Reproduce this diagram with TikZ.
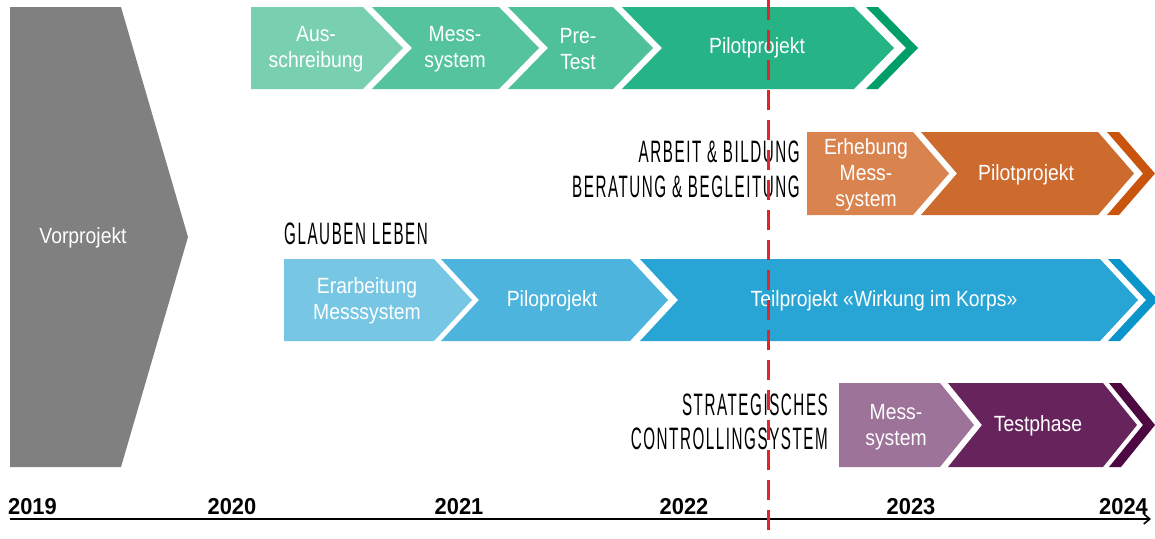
\documentclass[tikz,border=0pt]{standalone}
\usepackage{fontspec}
\setmainfont{Liberation Sans}
\newfontfamily\condf[FakeStretch=0.88]{Liberation Sans}
\newfontfamily\handf[FakeStretch=0.49,LetterSpace=5]{Liberation Sans}
\newfontfamily\yearf[FakeStretch=0.95]{Liberation Sans}
\usetikzlibrary{arrows.meta}
\definecolor{gA}{HTML}{79D0B1}
\definecolor{gB}{HTML}{54C39E}
\definecolor{gC}{HTML}{4EC19A}
\definecolor{gD}{HTML}{26B386}
\definecolor{gS}{HTML}{009E6A}
\definecolor{oA}{HTML}{D9844F}
\definecolor{oB}{HTML}{CD6A2E}
\definecolor{oS}{HTML}{C8540E}
\definecolor{bA}{HTML}{76C6E4}
\definecolor{bB}{HTML}{4DB4DD}
\definecolor{bC}{HTML}{28A5D5}
\definecolor{bS}{HTML}{0C95CA}
\definecolor{pA}{HTML}{9E7399}
\definecolor{pB}{HTML}{67235C}
\definecolor{pS}{HTML}{4E0943}
\definecolor{vgray}{HTML}{808080}
\definecolor{redline}{HTML}{E3242B}
% #1 colour, #2 x left, #3 x right (top), #4 y top, #5 y bottom, #6 notch depth, #7 tip depth
\newcommand\chevshape[7]{%
  \fill[#1] (#2,#4) -- (#3,#4) -- ({#3+#7},{(#4+#5)/2}) -- (#3,#5) -- (#2,#5) -- ({#2+#6},{(#4+#5)/2}) -- cycle;}
\begin{document}
\begin{tikzpicture}[x=1pt,y=-1pt,
  chevtext/.style={text=white,font=\condf\fontsize{22}{26}\selectfont,align=center,inner sep=0pt},
  headtext/.style={text=black,font=\handf\fontsize{31}{34}\selectfont,inner sep=0pt},
  yeartext/.style={text=black,font=\yearf\bfseries\fontsize{23}{26}\selectfont,inner sep=0pt}]
\useasboundingbox (0,0) rectangle (1155,538);
% Vorprojekt
\fill[vgray] (10,7) -- (121,7) -- (188,237) -- (121,467) -- (10,467) -- cycle;
\node[chevtext] (vor) at (83,238) {Vorprojekt};
% green row
\chevshape{gA}{251}{363}{7}{89}{0}{40}
\chevshape{gB}{372}{499}{7}{89}{40}{40}
\chevshape{gC}{508}{613}{7}{89}{40}{40}
\chevshape{gD}{622}{854}{7}{89}{40}{40}
\chevshape{gS}{866}{878}{7}{89}{40}{40}
\node[chevtext] (g1) at (316,49) {Aus-\\schreibung};
\node[chevtext] (g2) at (455,49) {Mess-\\system};
\node[chevtext] (g3) at (578,49) {Pre-\\Test};
\node[chevtext] (g4) at (757,48) {Pilotprojekt};
% orange row
\chevshape{oA}{807}{913}{132}{215}{0}{36}
\chevshape{oB}{921}{1098}{132}{215}{36}{36}
\chevshape{oS}{1107}{1119}{132}{215}{36}{36}
\node[chevtext] (o1) at (866,175) {Erhebung\\Mess-\\system};
\node[chevtext] (o2) at (1026,175) {Pilotprojekt};
\node[headtext,anchor=base east] (arb) at (800,162) {ARBEIT \& BILDUNG};
\node[headtext,anchor=base east] (ber) at (800,197) {BERATUNG \& BEGLEITUNG};
% blue row
\chevshape{bA}{284}{434}{259}{341}{0}{38}
\chevshape{bB}{441}{630}{259}{341}{38}{38}
\chevshape{bC}{640}{1100}{259}{341}{38}{38}
\chevshape{bS}{1108}{1120}{259}{341}{38}{38}
\node[headtext,anchor=base west] (gla) at (284,244) {GLAUBEN LEBEN};
\node[chevtext] (b1) at (367,301) {Erarbeitung\\Messsystem};
\node[chevtext] (b2) at (552,301) {Piloprojekt};
\node[chevtext] (b3) at (884,301) {Teilprojekt «Wirkung im Korps»};
% purple row
\chevshape{pA}{839}{940}{383}{467}{0}{34}
\chevshape{pB}{948}{1103}{383}{467}{34}{34}
\chevshape{pS}{1109}{1121}{383}{467}{34}{34}
\node[headtext,anchor=base east] (str) at (828,415) {STRATEGISCHES};
\node[headtext,anchor=base east] (con) at (828,449) {CONTROLLINGSYSTEM};
\node[chevtext] (p1) at (896,427) {Mess-\\system};
\node[chevtext] (p2) at (1038,426) {Testphase};
% axis
\coordinate (ax0) at (10,519);
\coordinate (ax1) at (1151,519);
\draw[line width=1.6pt,-{Straight Barb[length=6pt,width=10pt]}] (ax0) -- (ax1);
\node[yeartext,anchor=base west] (y19) at (8,514) {2019};
\node[yeartext,anchor=base] (y20) at (232,514) {2020};
\node[yeartext,anchor=base] (y21) at (459,514) {2021};
\node[yeartext,anchor=base] (y22) at (684,514) {2022};
\node[yeartext,anchor=base] (y23) at (911,514) {2023};
\node[yeartext,anchor=base east] (y24) at (1148,514) {2024};
% red dashed marker
\coordinate (rtop) at (768,0);
\coordinate (rbot) at (768,538);
\draw[redline,line width=3pt,dash pattern=on 20pt off 10pt] (rtop) -- (rbot);
\end{tikzpicture}
\end{document}
